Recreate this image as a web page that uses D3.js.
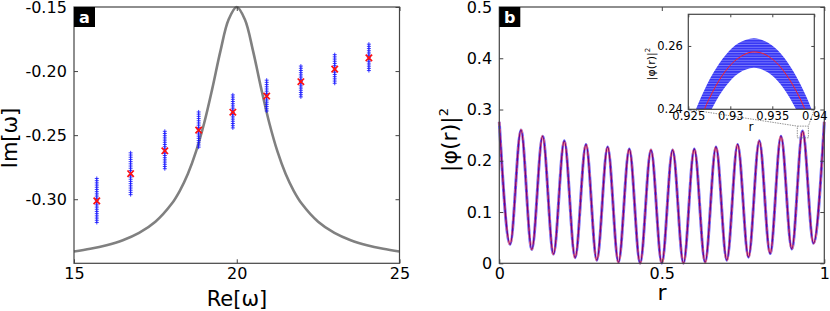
<!DOCTYPE html>
<html>
<head>
<meta charset="utf-8">
<script src="https://cdn.jsdelivr.net/npm/d3@7"></script>
<style>
body { margin: 0; background: #fff; }
svg { font-family: "DejaVu Sans", sans-serif; }
</style>
</head>
<body>
<svg id="chart" width="830" height="311"></svg>
<script>
// ---- panel a : complex eigenvalues ----
var reOmega  = [15.70, 16.74, 17.79, 18.83, 19.88, 20.92, 21.97, 23.01, 24.06];
var imOmega  = [-0.3013, -0.2801, -0.2622, -0.2461, -0.2321, -0.2195, -0.2083, -0.1985, -0.1897];
var imSpread = [0.0175, 0.0163, 0.0152, 0.0142, 0.0135, 0.0124, 0.0122, 0.0113, 0.0107];

// grey resonance curve
var lineRe = [15, 15.5, 16, 16.5, 17, 17.5, 18, 18.25, 18.5, 18.75, 19, 19.25, 19.5, 19.75, 20,
              20.25, 20.5, 20.75, 21, 21.25, 21.5, 21.75, 22, 22.5, 23, 23.5, 24, 24.5, 25];
var lineIm = [-0.3408, -0.3387, -0.3359, -0.3320, -0.3263, -0.3176, -0.3036, -0.2934, -0.2801, -0.2627,
              -0.2405, -0.2135, -0.1842, -0.1598, -0.1500, -0.1598, -0.1842, -0.2135, -0.2405, -0.2627,
              -0.2801, -0.2934, -0.3036, -0.3176, -0.3263, -0.3320, -0.3359, -0.3387, -0.3408];

var aXTicks = [15, 20, 25];
var aYTicks = [-0.30, -0.25, -0.20, -0.15];

// ---- panel b : |phi(r)|^2 ----
var peakR    = [0, 0.0667, 0.1333, 0.2, 0.2667, 0.3333, 0.4, 0.4667, 0.5333, 0.6, 0.6667, 0.7333, 0.8, 0.8667, 0.9333, 1];
var peakVal  = [0.276, 0.260, 0.248, 0.239, 0.232, 0.227, 0.223, 0.221, 0.221, 0.223, 0.227, 0.232, 0.239, 0.248, 0.258, 0.276];
var troughR  = [0.0333, 0.1, 0.1667, 0.2333, 0.3, 0.3667, 0.4333, 0.5, 0.5667, 0.6333, 0.7, 0.7667, 0.8333, 0.9, 0.9667];
var troughVal= [0.037, 0.027, 0.018, 0.011, 0.006, 0.002, 0.0, 0.0, 0.0, 0.002, 0.006, 0.012, 0.019, 0.028, 0.039];

var bXTicks = [0, 0.5, 1];
var bYTicks = [0, 0.1, 0.2, 0.3, 0.4, 0.5];

// inset (zoom of the peak near r = 0.933)
var insetR     = [0.925, 0.9265, 0.928, 0.9295, 0.931, 0.9328, 0.9345, 0.936, 0.9375, 0.939, 0.9405];
var insetUpper = [0.2338, 0.2437, 0.2516, 0.2573, 0.2609, 0.2624, 0.2610, 0.2576, 0.2520, 0.2443, 0.2345];
var insetLower = [0.2215, 0.2325, 0.2411, 0.2474, 0.2514, 0.2531, 0.2516, 0.2478, 0.2416, 0.2331, 0.2223];
var redR       = [0.9260, 0.9275, 0.9290, 0.9305, 0.9320, 0.9329, 0.9340, 0.9355, 0.9370, 0.9385, 0.9400];
var redVal     = [0.2342, 0.2434, 0.2505, 0.2552, 0.2577, 0.2581, 0.2575, 0.2547, 0.2496, 0.2423, 0.2328];
var insetXTicks = [0.925, 0.93, 0.935, 0.94];
var insetYTicks = [0.24, 0.26];
var zoomBoxR   = [0.917, 0.951];
var zoomBoxVal = [0.2448, 0.2676];

var svg = d3.select('#chart');
var frameColor = '#444';

// light stripes for the blue ensemble band of the inset
var pat = svg.append('defs').append('pattern')
    .attr('id', 'band').attr('patternUnits', 'userSpaceOnUse')
    .attr('width', 6).attr('height', 2.6);
pat.append('rect').attr('width', 6).attr('height', 2.6).attr('fill', '#3838f4');
pat.append('rect').attr('y', 0).attr('width', 6).attr('height', 0.7).attr('fill', '#8c8cff');

function frame(g, x, y) {
    g.append('rect')
        .attr('x', x.range()[0]).attr('y', y.range()[1])
        .attr('width', x.range()[1] - x.range()[0])
        .attr('height', y.range()[0] - y.range()[1])
        .attr('fill', 'none')
        .attr('stroke', frameColor)
        .attr('stroke-width', 1.2);
}

function axes(g, x, y, xt, yt, fs, xfmt, yfmt, tick) {
    var h = y.range()[0], w0 = x.range()[0], w1 = x.range()[1], top = y.range()[1];
    g.append('g').attr('transform', 'translate(0,' + h + ')')
        .call(d3.axisBottom(x).tickValues(xt).tickFormat(xfmt).tickSizeInner(-tick).tickSizeOuter(0).tickPadding(fs * 0.25));
    g.append('g').attr('transform', 'translate(' + w0 + ',0)')
        .call(d3.axisLeft(y).tickValues(yt).tickFormat(yfmt).tickSizeInner(-tick).tickSizeOuter(0).tickPadding(fs * 0.45));
    g.append('g').attr('transform', 'translate(0,' + top + ')')
        .call(d3.axisTop(x).tickValues(xt).tickFormat('').tickSizeInner(-tick).tickSizeOuter(0));
    g.append('g').attr('transform', 'translate(' + w1 + ',0)')
        .call(d3.axisRight(y).tickValues(yt).tickFormat('').tickSizeInner(-tick).tickSizeOuter(0));
    g.selectAll('.domain').remove();
    g.selectAll('.tick line').attr('stroke', frameColor);
    g.selectAll('.tick text').attr('font-size', fs).attr('font-family', '"DejaVu Sans", sans-serif').attr('fill', '#000');
    frame(g, x, y);
}

function panelLabel(g, x0, y0, txt) {
    g.append('rect').attr('x', x0).attr('y', y0).attr('width', 21).attr('height', 20).attr('fill', '#000');
    g.append('text').attr('x', x0 + 10.5).attr('y', y0 + 15.5)
        .attr('text-anchor', 'middle').attr('fill', '#fff')
        .attr('font-size', 16).attr('font-weight', 'bold').text(txt);
}

// ================= panel a =================
var ga = svg.append('g');
var xa = d3.scaleLinear().domain([15, 25]).range([74, 399.5]);
var ya = d3.scaleLinear().domain([-0.35, -0.15]).range([263.3, 7]);

ga.append('path')
    .datum(d3.zip(lineRe, lineIm))
    .attr('fill', 'none')
    .attr('stroke', '#808080')
    .attr('stroke-width', 2.6)
    .attr('d', d3.line().x(d => xa(d[0])).y(d => ya(d[1])).curve(d3.curveCatmullRom));

// blue spread of the ensemble, drawn as stacked "+" markers
reOmega.forEach(function (re, i) {
    var yTop = ya(imOmega[i] + imSpread[i]);
    var yBot = ya(imOmega[i] - imSpread[i]);
    var ys = d3.range(yTop, yBot + 0.1, 2.2);
    ga.append('g').selectAll('path')
        .data(ys).enter().append('path')
        .attr('transform', d => 'translate(' + xa(re) + ',' + d + ')')
        .attr('d', 'M-2,0H2M0,-2V2')
        .attr('stroke', '#1010ff')
        .attr('stroke-opacity', 0.8)
        .attr('stroke-width', 1);
});

ga.selectAll('.mean')
    .data(d3.zip(reOmega, imOmega)).enter()
    .append('path')
    .classed('mean', true)
    .attr('transform', d => 'translate(' + xa(d[0]) + ',' + ya(d[1]) + ')')
    .attr('d', 'M-3.2,-3.2L3.2,3.2M-3.2,3.2L3.2,-3.2')
    .attr('stroke', '#ff1010')
    .attr('stroke-width', 1.7);

axes(ga, xa, ya, aXTicks, aYTicks, 16, d3.format('d'), d3.format('.2f'), 4);
ga.selectAll('.tick text').text(function () { return d3.select(this).text().replace('−', '-'); });

ga.append('text').attr('x', 237).attr('y', 306)
    .attr('text-anchor', 'middle').attr('font-size', 21).text('Re[ω]');
ga.append('text').attr('transform', 'translate(17,138) rotate(-90)')
    .attr('text-anchor', 'middle').attr('font-size', 21).text('Im[ω]');
panelLabel(ga, 74, 7, 'a');

// ================= panel b =================
var gb = svg.append('g');
var xb = d3.scaleLinear().domain([0, 1]).range([499.3, 824.3]);
var yb = d3.scaleLinear().domain([0, 0.5]).range([263.3, 7]);

var pts = d3.zip(peakR, peakVal).concat(d3.zip(troughR, troughVal))
    .sort((a, b) => a[0] - b[0]);
var wave = d3.line().x(d => xb(d[0])).y(d => yb(d[1])).curve(d3.curveMonotoneX);

gb.append('path').datum(pts).attr('fill', 'none')
    .attr('stroke', '#6a6aff').attr('stroke-width', 3).attr('d', wave);
gb.append('path').datum(pts).attr('fill', 'none')
    .attr('stroke', '#ff8a8a').attr('stroke-width', 2.3)
    .attr('stroke-dasharray', '4,3').attr('d', wave);
gb.append('path').datum(pts).attr('fill', 'none')
    .attr('stroke', '#74007e').attr('stroke-width', 1.3).attr('d', wave);

axes(gb, xb, yb, bXTicks, bYTicks, 16, d3.format('~g'), d3.format('~g'), 4);

gb.append('text').attr('x', 662).attr('y', 300)
    .attr('text-anchor', 'middle').attr('font-size', 22).text('r');
var yl = gb.append('text').attr('transform', 'translate(457,140) rotate(-90)')
    .attr('text-anchor', 'middle').attr('font-size', 22);
yl.append('tspan').text('|φ(r)|');
yl.append('tspan').attr('font-size', 13).attr('dy', -9).text('2');
panelLabel(gb, 499.3, 7, 'b');

// zoom box and connectors
var xi = d3.scaleLinear().domain([0.925, 0.94]).range([688.3, 814.3]);
var yi = d3.scaleLinear().domain([0.24, 0.27]).range([109.3, 14.3]);

gb.append('rect')
    .attr('x', xb(zoomBoxR[0])).attr('y', yb(zoomBoxVal[1]))
    .attr('width', xb(zoomBoxR[1]) - xb(zoomBoxR[0]))
    .attr('height', yb(zoomBoxVal[0]) - yb(zoomBoxVal[1]))
    .attr('fill', 'none').attr('stroke', '#777').attr('stroke-width', 0.8)
    .attr('stroke-dasharray', '1.5,1');
[[xi.range()[0], xb(zoomBoxR[0])], [xi.range()[1], xb(zoomBoxR[1])]].forEach(function (p) {
    gb.append('line')
        .attr('x1', p[0]).attr('y1', yi.range()[0])
        .attr('x2', p[1]).attr('y2', yb(zoomBoxVal[1]))
        .attr('stroke', '#777').attr('stroke-width', 0.8)
        .attr('stroke-dasharray', '1.5,1');
});

// inset
var gi = svg.append('g');
gi.append('rect').attr('x', 688.3).attr('y', 14.3).attr('width', 126).attr('height', 95).attr('fill', '#fff');
gi.append('clipPath').attr('id', 'insetClip')
    .append('rect').attr('x', 688.3).attr('y', 14.3).attr('width', 126).attr('height', 95);
var gic = gi.append('g').attr('clip-path', 'url(#insetClip)');

gic.append('path')
    .datum(d3.zip(insetR, insetUpper, insetLower))
    .attr('fill', 'url(#band)')
    .attr('d', d3.area().x(d => xi(d[0])).y0(d => yi(d[2])).y1(d => yi(d[1])).curve(d3.curveCatmullRom));
gic.append('path')
    .datum(d3.zip(redR, redVal))
    .attr('fill', 'none').attr('stroke', '#ff2020').attr('stroke-width', 1)
    .attr('d', d3.line().x(d => xi(d[0])).y(d => yi(d[1])).curve(d3.curveCatmullRom));

axes(gi, xi, yi, insetXTicks, insetYTicks, 12, d3.format('~g'), d3.format('.2f'), 3);
gi.selectAll('.tick text').attr('font-size', 11.5);

gi.append('text').attr('x', 751).attr('y', 131)
    .attr('text-anchor', 'middle').attr('font-size', 12).text('r');
var il = gi.append('text').attr('transform', 'translate(655,64) rotate(-90)')
    .attr('text-anchor', 'middle').attr('font-size', 11);
il.append('tspan').text('|φ(r)|');
il.append('tspan').attr('font-size', 7).attr('dy', -5).text('2');
</script>
</body>
</html>
